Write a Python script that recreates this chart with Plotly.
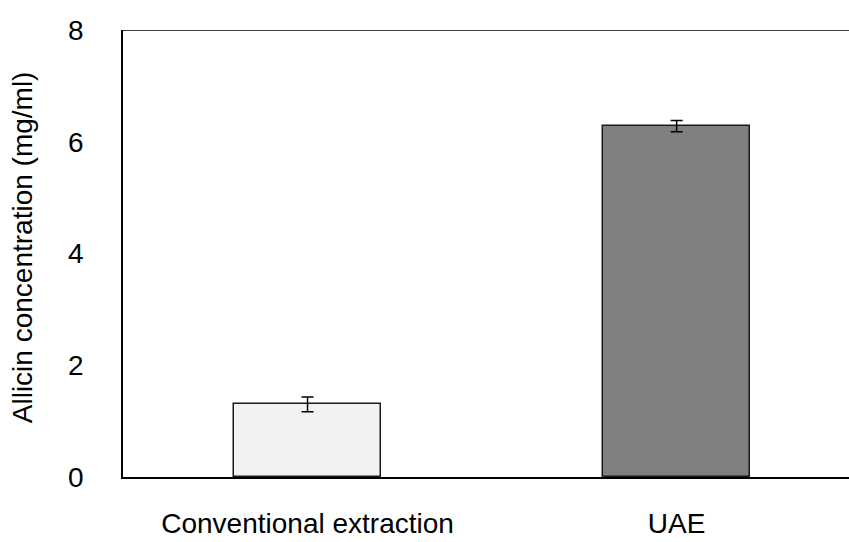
import plotly.graph_objects as go

categories = ["Conventional extraction", "UAE"]
values = [1.30, 6.28]
errors = [0.13, 0.10]
colors = ["#f2f2f2", "#808080"]
y_ticks = [0, 2, 4, 6, 8]
y_title = "Allicin concentration (mg/ml)"

FONT = "Liberation Sans, Arial, sans-serif"
FS = 28

fig = go.Figure()
fig.add_trace(go.Bar(
    x=[0, 1],
    y=values,
    width=0.40,
    marker=dict(color=colors, line=dict(color="#1a1a1a", width=1.5)),
    error_y=dict(type="data", array=errors, visible=True, color="black", thickness=1.5, width=6),
))

fig.add_shape(type="line", xref="paper", yref="y", x0=0, x1=1, y0=8, y1=8,
              line=dict(color="black", width=1.5))

fig.add_annotation(text=y_title, xref="paper", yref="paper", x=0, y=0.514,
                   xanchor="center", yanchor="middle", xshift=-101, textangle=-90,
                   showarrow=False, font=dict(family=FONT, size=FS, color="black"))

fig.update_layout(
    width=849, height=542,
    margin=dict(l=123, r=0, t=30, b=64.5),
    paper_bgcolor="white", plot_bgcolor="white",
    font=dict(family=FONT, size=FS, color="black"),
    showlegend=False,
    bargap=0,
)
fig.update_xaxes(
    range=[-0.5, 1.467], automargin=False,
    tickmode="array", tickvals=[0, 1], ticktext=categories,
    showline=True, linecolor="black", linewidth=2,
    showgrid=False, zeroline=False, ticks="",
    ticklabelstandoff=20,
    tickfont=dict(family=FONT, size=FS, color="black"),
)
fig.update_yaxes(
    range=[0, 8], automargin=False,
    tickmode="array", tickvals=y_ticks,
    showline=True, linecolor="black", linewidth=1.5,
    showgrid=False, zeroline=False, ticks="",
    ticklabelstandoff=32,
    tickfont=dict(family=FONT, size=FS, color="black"),
)

fig.write_html("out.html")
